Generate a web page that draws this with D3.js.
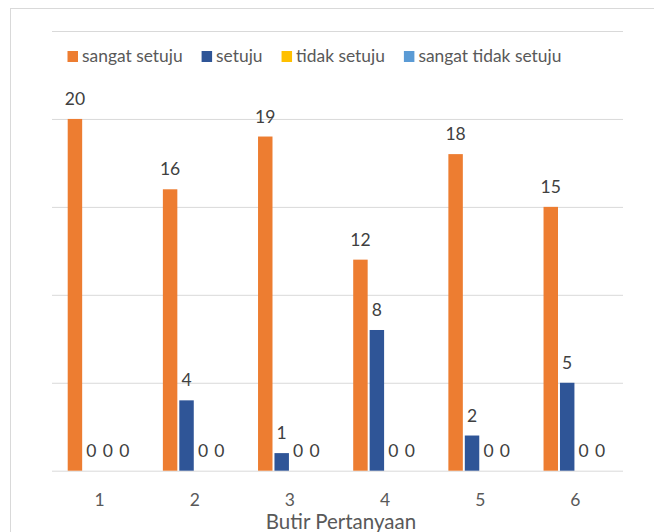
<!DOCTYPE html>
<html>
<head>
<meta charset="utf-8">
<script src="https://cdn.jsdelivr.net/npm/d3@7/dist/d3.min.js"></script>
<style>
  html, body { margin: 0; padding: 0; background: #fff; }
  svg { display: block; }
  text { font-family: Lato, "Open Sans", sans-serif; }
</style>
</head>
<body>
<svg id="chart" width="654" height="532"></svg>
<script>
// Survey answers per question item
const categories = ["1", "2", "3", "4", "5", "6"];
const seriesNames = ["sangat setuju", "setuju", "tidak setuju", "sangat tidak setuju"];
const sangatSetuju = [20, 16, 19, 12, 18, 15];
const setuju = [0, 4, 1, 8, 2, 5];
const tidakSetuju = [0, 0, 0, 0, 0, 0];
const sangatTidakSetuju = [0, 0, 0, 0, 0, 0];
const yTicks = [0, 5, 10, 15, 20, 25];
const colors = ["#ED7D31", "#2F5597", "#FFC000", "#5B9BD5"];
const axisTitle = "Butir Pertanyaan";

const seriesValues = [sangatSetuju, setuju, tidakSetuju, sangatTidakSetuju];
const rows = categories.map((c, i) => ({
  cat: c,
  vals: seriesNames.map((s, k) => ({ key: s, k, value: seriesValues[k][i] }))
}));

const svg = d3.select("#chart");
const plot = { left: 52, right: 623, top: 31, bottom: 470.7 };

// Chart-area frame
svg.append("rect")
  .attr("x", 10.5).attr("y", 8.5)
  .attr("width", 700).attr("height", 600)
  .attr("fill", "none").attr("stroke", "#d9d9d9").attr("stroke-width", 1);

const x0 = d3.scaleBand().domain(categories)
  .range([plot.left, plot.right]).paddingInner(0.33).paddingOuter(0.165);
const x1 = d3.scaleBand().domain(seriesNames)
  .range([0, x0.bandwidth()]).paddingInner(0.12);
const y = d3.scaleLinear().domain([0, 25]).range([plot.bottom, plot.top]);

// Horizontal gridlines
const grid = d3.axisLeft(y).tickValues(yTicks)
  .tickSize(-(plot.right - plot.left)).tickFormat("");
const gg = svg.append("g").attr("transform", `translate(${plot.left},0)`).call(grid);
gg.select(".domain").remove();
gg.selectAll(".tick line").attr("stroke", "#d9d9d9").attr("stroke-width", 1);

// Bars and value labels
const groups = svg.append("g").selectAll("g").data(rows).join("g")
  .attr("transform", d => `translate(${x0(d.cat)},0)`);

groups.selectAll("rect").data(d => d.vals).join("rect")
  .attr("x", d => x1(d.key))
  .attr("width", x1.bandwidth())
  .attr("y", d => y(d.value))
  .attr("height", d => y(0) - y(d.value))
  .attr("fill", d => colors[d.k]);

groups.selectAll("text").data(d => d.vals).join("text")
  .attr("x", d => x1(d.key) + x1.bandwidth() / 2)
  .attr("y", d => y(d.value) - 14)
  .attr("text-anchor", "middle")
  .attr("font-size", 17.5)
  .attr("fill", "#404040")
  .text(d => d.value);

// Category axis labels
const xAxis = d3.axisBottom(x0).tickSize(0).tickPadding(0);
const xg = svg.append("g").attr("transform", `translate(0,${plot.bottom})`).call(xAxis);
xg.select(".domain").remove();
xg.selectAll(".tick text")
  .attr("y", 35).attr("dy", null)
  .attr("font-size", 17.5)
  .attr("font-family", "Lato, 'Open Sans', sans-serif")
  .attr("fill", "#595959");

// Axis title
svg.append("text")
  .attr("x", 341).attr("y", 529)
  .attr("text-anchor", "middle")
  .attr("font-size", 20.5)
  .attr("fill", "#595959")
  .text(axisTitle);

// Legend
const legend = svg.append("g");
let lx = 67.5;
seriesNames.forEach((name, k) => {
  legend.append("rect")
    .attr("x", lx).attr("y", 51)
    .attr("width", 10.5).attr("height", 11)
    .attr("fill", colors[k]);
  const t = legend.append("text")
    .attr("x", lx + 14.5).attr("y", 62)
    .attr("font-size", 17.4)
    .attr("fill", "#595959")
    .text(name);
  lx += 14.5 + t.node().getComputedTextLength() + 19;
});
</script>
</body>
</html>
